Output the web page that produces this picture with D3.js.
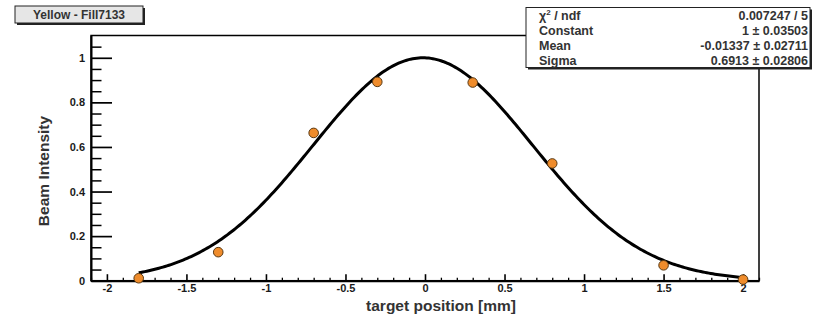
<!DOCTYPE html>
<html>
<head>
<meta charset="utf-8">
<script src="https://cdn.jsdelivr.net/npm/d3@7"></script>
<style>
  html, body { margin: 0; padding: 0; background: #fff; }
  svg { display: block; }
  text { font-family: "Liberation Sans", Arial, Helvetica, sans-serif; font-weight: bold; }
</style>
</head>
<body>
<svg id="chart" width="815" height="320"></svg>
<script>
// ---- data ----
const xPositions = [-1.8, -1.3, -0.7, -0.3, 0.3, 0.8, 1.5, 2.0];
const intensities = [0.011, 0.128, 0.663, 0.892, 0.889, 0.526, 0.069, 0.005];
const xMajorTicks = [-2, -1.5, -1, -0.5, 0, 0.5, 1, 1.5, 2];
const yMajorTicks = [0, 0.2, 0.4, 0.6, 0.8, 1];
const fitNames = ["Constant", "Mean", "Sigma"];
const fitValues = [1, -0.01337, 0.6913];
const fitErrors = ["0.03503", "0.02711", "0.02806"];
const fitValueLabels = ["1", "-0.01337", "0.6913"];
const chi2Label = "0.007247 / 5";
const fitRange = [-1.8, 2.0];
const titleText = "Yellow - Fill7133";
const xTitle = "target position [mm]";
const yTitle = "Beam Intensity";

// ---- layout ----
const svg = d3.select("#chart");
const L = 91, R = 759, T = 35.5, B = 280.7;
const x = d3.scaleLinear().domain([-2.1, 2.1]).range([L, R]);
const y = d3.scaleLinear().domain([0, 1.1]).range([B, T]);

// frame
svg.append("rect").attr("x", L).attr("y", T).attr("width", R - L).attr("height", B - T)
  .attr("fill", "none").attr("stroke", "#000").attr("stroke-width", 1.5);

// x axis minor ticks
const xMinor = d3.range(-21, 22).map(i => i / 10).filter(v => !xMajorTicks.some(m => Math.abs(m - v) < 1e-9));
svg.append("g").attr("transform", `translate(0,${B})`)
  .call(d3.axisBottom(x).tickValues(xMinor).tickSize(-3).tickFormat(""))
  .call(g => g.select(".domain").remove())
  .selectAll("line").attr("stroke", "#000").attr("stroke-width", 1.3);
// x axis major
const gx = svg.append("g").attr("transform", `translate(0,${B})`)
  .call(d3.axisBottom(x).tickValues(xMajorTicks).tickSizeInner(-6.5).tickSizeOuter(0)
    .tickPadding(4).tickFormat(d => String(d)));
gx.select(".domain").attr("stroke", "#000").attr("stroke-width", 2);
gx.selectAll("line").attr("stroke", "#000").attr("stroke-width", 1.6);
gx.selectAll("text").attr("font-size", 11).attr("fill", "#1a1a1a")
  .attr("font-family", "Liberation Sans, Arial, sans-serif").attr("font-weight", "bold");

// y axis minor ticks
const yMinor = d3.range(0, 22).map(i => i * 0.05).filter(v => v < 1.099 && !yMajorTicks.some(m => Math.abs(m - v) < 1e-9));
svg.append("g").attr("transform", `translate(${L},0)`)
  .call(d3.axisLeft(y).tickValues(yMinor).tickSize(-10.5).tickFormat(""))
  .call(g => g.select(".domain").remove())
  .selectAll("line").attr("stroke", "#000").attr("stroke-width", 1.5);
// y axis major
const gy = svg.append("g").attr("transform", `translate(${L},0)`)
  .call(d3.axisLeft(y).tickValues(yMajorTicks).tickSizeInner(-21).tickSizeOuter(0)
    .tickPadding(6).tickFormat(d => String(d)));
gy.select(".domain").attr("stroke", "#000").attr("stroke-width", 2);
gy.selectAll("line").attr("stroke", "#000").attr("stroke-width", 1.7);
gy.selectAll("text").attr("font-size", 11).attr("fill", "#1a1a1a")
  .attr("font-family", "Liberation Sans, Arial, sans-serif").attr("font-weight", "bold");

// axis titles
svg.append("text").attr("x", 441).attr("y", 311).attr("text-anchor", "middle")
  .attr("font-size", 15.5).attr("fill", "#333").text(xTitle);
svg.append("text").attr("transform", "translate(49,171) rotate(-90)").attr("text-anchor", "middle")
  .attr("font-size", 15.5).attr("fill", "#333").text(yTitle);

// fit curve (Gaussian from fit parameters)
const [cst, mean, sigma] = fitValues;
const curveX = d3.range(0, 301).map(i => fitRange[0] + (fitRange[1] - fitRange[0]) * i / 300);
const line = d3.line().x(d => x(d)).y(d => y(cst * Math.exp(-0.5 * ((d - mean) / sigma) ** 2)));
svg.append("path").datum(curveX).attr("d", line).attr("fill", "none")
  .attr("stroke", "#000").attr("stroke-width", 3);

// data points
svg.append("g").selectAll("circle").data(xPositions).join("circle")
  .attr("cx", d => x(d)).attr("cy", (d, i) => y(intensities[i])).attr("r", 4.8)
  .attr("fill", "#ef8c2c").attr("stroke", "#5a3a14").attr("stroke-width", 1);

// title box
const tb = { x: 15, y: 6, w: 128, h: 17 };
svg.append("rect").attr("x", tb.x + 2).attr("y", tb.y + 2).attr("width", tb.w).attr("height", tb.h).attr("fill", "#222");
svg.append("rect").attr("x", tb.x).attr("y", tb.y).attr("width", tb.w).attr("height", tb.h)
  .attr("fill", "#e6e6e6").attr("stroke", "#222").attr("stroke-width", 1);
svg.append("text").attr("x", tb.x + tb.w / 2).attr("y", tb.y + 12.5).attr("text-anchor", "middle")
  .attr("font-size", 12).attr("fill", "#333").text(titleText);

// stats box
const sb = { x: 526, y: 7.5, w: 284, h: 60 };
svg.append("rect").attr("x", sb.x + 2).attr("y", sb.y + 2).attr("width", sb.w).attr("height", sb.h).attr("fill", "#222");
svg.append("rect").attr("x", sb.x).attr("y", sb.y).attr("width", sb.w).attr("height", sb.h)
  .attr("fill", "#fff").attr("stroke", "#222").attr("stroke-width", 1);
const rowY = [20, 35, 50, 64.5];
const chi = svg.append("text").attr("x", 539).attr("y", rowY[0]).attr("font-size", 12.5).attr("fill", "#333");
chi.append("tspan").text("χ");
chi.append("tspan").attr("font-size", 8).attr("dy", -5).text("2");
chi.append("tspan").attr("dy", 5).text(" / ndf");
svg.append("text").attr("x", 808).attr("y", rowY[0]).attr("text-anchor", "end")
  .attr("font-size", 12.5).attr("fill", "#333").text(chi2Label);
fitNames.forEach((n, i) => {
  svg.append("text").attr("x", 539).attr("y", rowY[i + 1]).attr("font-size", 12.5).attr("fill", "#333").text(n);
  svg.append("text").attr("x", 808).attr("y", rowY[i + 1]).attr("text-anchor", "end")
    .attr("font-size", 12.5).attr("fill", "#333").text(fitValueLabels[i] + " ± " + fitErrors[i]);
});
</script>
</body>
</html>
